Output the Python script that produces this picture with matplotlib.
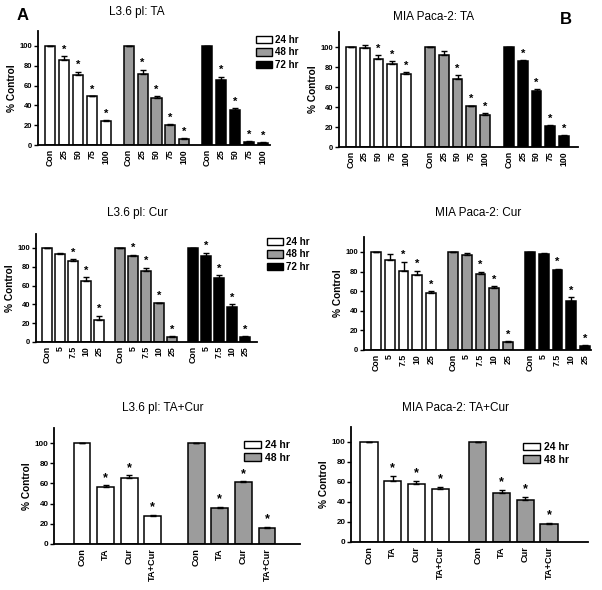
import matplotlib
matplotlib.use("Agg")
import matplotlib.pyplot as plt
from matplotlib.patches import Patch

plt.rcParams['font.family'] = ['Liberation Sans', 'DejaVu Sans']

W, H = 602, 590

# ---------------- data ----------------
ta_doses = ['Con', '25', '50', '75', '100']
cur_doses = ['Con', '5', '7.5', '10', '25']
combo_labels = ['Con', 'TA', 'Cur', 'TA+Cur']
times3 = ['24 hr', '48 hr', '72 hr']
times2 = ['24 hr', '48 hr']

# L3.6 pl: TA
l36_ta_24 = [100, 86, 71, 49, 24]
l36_ta_48 = [100, 72, 47, 20, 6]
l36_ta_72 = [100, 66, 35, 3, 2]
l36_ta_24_err = [0, 4, 3, 0.5, 1]
l36_ta_48_err = [0, 4, 2, 1, 1]
l36_ta_72_err = [0, 3, 2, 1, 1]
l36_ta_24_sig = [0, 1, 1, 1, 1]
l36_ta_48_sig = [0, 1, 1, 1, 1]
l36_ta_72_sig = [0, 1, 1, 1, 1]

# MIA Paca-2: TA
mia_ta_24 = [100, 99, 88, 83, 73]
mia_ta_48 = [100, 92, 68, 41, 32]
mia_ta_72 = [100, 86, 56, 21, 11]
mia_ta_24_err = [0, 3, 4, 3, 2]
mia_ta_48_err = [0, 4, 4, 0.5, 2]
mia_ta_72_err = [0, 1, 2, 1, 1]
mia_ta_24_sig = [0, 0, 1, 1, 1]
mia_ta_48_sig = [0, 0, 1, 1, 1]
mia_ta_72_sig = [0, 1, 1, 1, 1]

# L3.6 pl: Cur
l36_cur_24 = [100, 94, 86, 65, 23]
l36_cur_48 = [100, 91, 76, 41, 5]
l36_cur_72 = [100, 91, 68, 37, 5]
l36_cur_24_err = [0, 0.5, 2, 4, 5]
l36_cur_48_err = [0, 2, 3, 1, 1]
l36_cur_72_err = [0, 4, 3, 3, 1]
l36_cur_24_sig = [0, 0, 1, 1, 1]
l36_cur_48_sig = [0, 1, 1, 1, 1]
l36_cur_72_sig = [0, 1, 1, 1, 1]

# MIA Paca-2: Cur
mia_cur_24 = [100, 92, 81, 77, 58]
mia_cur_48 = [100, 97, 78, 63, 8]
mia_cur_72 = [100, 98, 82, 50, 4]
mia_cur_24_err = [0, 6, 9, 4, 2]
mia_cur_48_err = [0, 2, 2, 2, 1]
mia_cur_72_err = [0, 0.5, 1, 4, 1]
mia_cur_24_sig = [0, 0, 1, 1, 1]
mia_cur_48_sig = [0, 0, 1, 1, 1]
mia_cur_72_sig = [0, 0, 1, 1, 1]

# L3.6 pl: TA+Cur
l36_combo_24 = [100, 56, 65, 28]
l36_combo_48 = [100, 36, 61, 16]
l36_combo_24_err = [0, 2, 3, 1]
l36_combo_48_err = [0, 1, 1, 1]
l36_combo_24_sig = [0, 1, 1, 1]
l36_combo_48_sig = [0, 1, 1, 1]

# MIA Paca-2: TA+Cur
mia_combo_24 = [100, 61, 58, 53]
mia_combo_48 = [100, 49, 42, 18]
mia_combo_24_err = [0, 5, 3, 2]
mia_combo_48_err = [0, 3, 3, 1]
mia_combo_24_sig = [0, 1, 1, 1]
mia_combo_48_sig = [0, 1, 1, 1]

colors = ['white', '#9c9c9c', 'black']
YMAX = 115

fig = plt.figure(figsize=(W / 100, H / 100), dpi=100)


def make_axes(L, R, y100, y0):
    top = y0 - (YMAX / 100.0) * (y0 - y100)
    return fig.add_axes([L / W, 1 - y0 / H, (R - L) / W, (y0 - top) / H])


def panel(geom, c0, cN, gap, labels, groups, errs, sigs, xtick_fs, ytick_fs, ylab_fs, star_fs):
    L, R, y100, y0 = geom
    ax = make_axes(L, R, y100, y0)
    n = len(labels)
    ng = len(groups)
    pN = (ng - 1) * gap + n - 1
    s = (cN - c0) / pN
    xs_all, lab_all = [], []
    for g, (vals, er, sg) in enumerate(zip(groups, errs, sigs)):
        xs = [g * gap + i for i in range(n)]
        ax.bar(xs, vals, width=0.72, color=colors[g], edgecolor='black', linewidth=1.1, zorder=2)
        ax.errorbar(xs, vals, yerr=[[0] * n, er], fmt='none', ecolor='black',
                    elinewidth=1.0, capsize=2.5, capthick=1.0, zorder=3)
        for x, v, e, k in zip(xs, vals, er, sg):
            if k:
                ax.text(x, v + e + 1.5, '*', ha='center', va='bottom', fontsize=star_fs,
                        fontweight='bold')
        xs_all += xs
        lab_all += labels
    ax.set_xlim(-(c0 - L) / s, pN + (R - cN) / s)
    ax.set_ylim(0, YMAX)
    ax.set_yticks([0, 20, 40, 60, 80, 100])
    ax.set_xticks(xs_all)
    ax.set_xticklabels(lab_all, rotation=90, fontsize=xtick_fs, fontweight='bold')
    ax.tick_params(axis='x', length=0, pad=3)
    ax.tick_params(axis='y', length=3, width=1.0, labelsize=ytick_fs, pad=1)
    for lab in ax.get_yticklabels():
        lab.set_fontweight('bold')
    for sp in ['top', 'right']:
        ax.spines[sp].set_visible(False)
    for sp in ['left', 'bottom']:
        ax.spines[sp].set_linewidth(1.3)
    ax.set_ylabel('% Control', fontsize=ylab_fs, fontweight='bold', labelpad=2)
    return ax


def add_legend(ax, names, x, ytop, fs):
    handles = [Patch(facecolor=colors[i], edgecolor='black', linewidth=1.0) for i in range(len(names))]
    leg = ax.legend(handles, names, loc='upper left', bbox_to_anchor=(x / W, 1 - ytop / H),
                    bbox_transform=fig.transFigure, frameon=False, fontsize=fs,
                    handlelength=1.6, handleheight=0.75, labelspacing=0.25,
                    handletextpad=0.4, borderpad=0, borderaxespad=0)
    for t in leg.get_texts():
        t.set_fontweight('bold')
    leg.set_clip_on(False)


# Panel A top-left: L3.6 pl TA
ax1 = panel((38, 270, 46, 145), 50, 263, 5.64, ta_doses,
            [l36_ta_24, l36_ta_48, l36_ta_72],
            [l36_ta_24_err, l36_ta_48_err, l36_ta_72_err],
            [l36_ta_24_sig, l36_ta_48_sig, l36_ta_72_sig], 6.3, 5.5, 7.3, 8)
add_legend(ax1, times3, 256, 35, 7)

# top-right: MIA TA
ax2 = panel((339, 578, 47, 147), 351, 564, 5.75, ta_doses,
            [mia_ta_24, mia_ta_48, mia_ta_72],
            [mia_ta_24_err, mia_ta_48_err, mia_ta_72_err],
            [mia_ta_24_sig, mia_ta_48_sig, mia_ta_72_sig], 6.3, 5.5, 7.3, 8)

# middle-left: L3.6 Cur
ax3 = panel((36, 257, 248, 342), 47, 245, 5.6, cur_doses,
            [l36_cur_24, l36_cur_48, l36_cur_72],
            [l36_cur_24_err, l36_cur_48_err, l36_cur_72_err],
            [l36_cur_24_sig, l36_cur_48_sig, l36_cur_72_sig], 6.3, 5.5, 7.3, 8)
add_legend(ax3, times3, 267, 237, 7)

# middle-right: MIA Cur
ax4 = panel((364, 591, 252, 350), 376, 585, 5.6, cur_doses,
            [mia_cur_24, mia_cur_48, mia_cur_72],
            [mia_cur_24_err, mia_cur_48_err, mia_cur_72_err],
            [mia_cur_24_sig, mia_cur_48_sig, mia_cur_72_sig], 6.3, 5.5, 7.3, 8)

# bottom-left: L3.6 TA+Cur
ax5 = panel((54, 300, 443, 544), 82, 267, 4.85, combo_labels,
            [l36_combo_24, l36_combo_48],
            [l36_combo_24_err, l36_combo_48_err],
            [l36_combo_24_sig, l36_combo_48_sig], 6.6, 5.8, 7.3, 9)
add_legend(ax5, times2, 244, 440, 7.5)

# bottom-right: MIA TA+Cur
ax6 = panel((351, 588, 442, 542), 369, 549, 4.6, combo_labels,
            [mia_combo_24, mia_combo_48],
            [mia_combo_24_err, mia_combo_48_err],
            [mia_combo_24_sig, mia_combo_48_sig], 6.6, 5.8, 7.3, 9)
add_legend(ax6, times2, 523, 442, 7.5)

# titles
fig.text(137 / W, 1 - 12 / H, 'L3.6 pl: TA', ha='center', va='center', fontsize=8.5)
fig.text(434 / W, 1 - 17 / H, 'MIA Paca-2: TA', ha='center', va='center', fontsize=8.5)
fig.text(137 / W, 1 - 213 / H, 'L3.6 pl: Cur', ha='center', va='center', fontsize=8.5)
fig.text(478 / W, 1 - 213 / H, 'MIA Paca-2: Cur', ha='center', va='center', fontsize=8.5)
fig.text(163 / W, 1 - 408 / H, 'L3.6 pl: TA+Cur', ha='center', va='center', fontsize=8.5)
fig.text(456 / W, 1 - 408 / H, 'MIA Paca-2: TA+Cur', ha='center', va='center', fontsize=8.5)
fig.text(23 / W, 1 - 16 / H, 'A', ha='center', va='center', fontsize=12, fontweight='bold')
fig.text(566 / W, 1 - 20 / H, 'B', ha='center', va='center', fontsize=12, fontweight='bold')

fig.savefig('out.png', dpi=100)
